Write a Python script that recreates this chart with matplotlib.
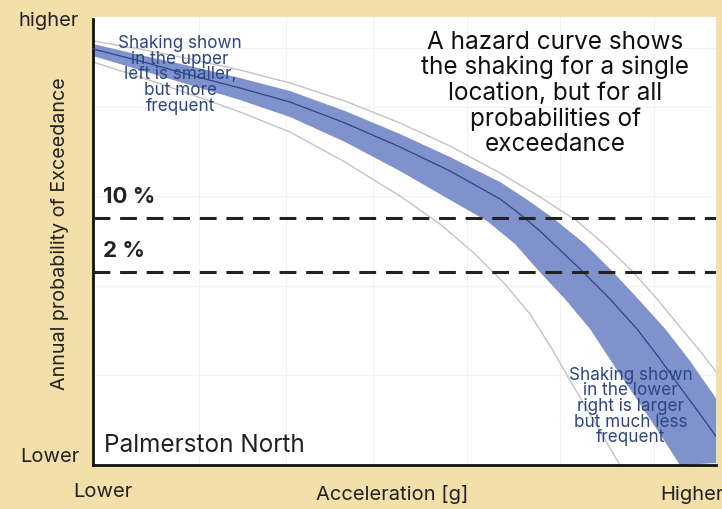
"""Hazard curve sketch for Palmerston North."""
import matplotlib
matplotlib.use("Agg")
import matplotlib.pyplot as plt
import numpy as np

# normalised acceleration (0 = lower, 1 = higher) and exceedance (0 = lower, 1 = higher)
center_x = [0.0, 0.0754, 0.1557, 0.2360, 0.3162, 0.4045, 0.4928, 0.5730, 0.6533,
            0.6854, 0.7175, 0.7817, 0.8299, 0.8732, 0.9101, 0.9422, 0.9743, 1.0064, 1.0385]
center_y = [0.9286, 0.9018, 0.8705, 0.8415, 0.8103, 0.7634, 0.7098, 0.6563, 0.5938,
            0.5600, 0.5223, 0.4375, 0.3705, 0.3036, 0.2366, 0.1741, 0.1138, 0.0513, -0.0089]

band_hi_x = [0.0, 0.0754, 0.1557, 0.2360, 0.3162, 0.4045, 0.4928, 0.5730, 0.6533,
             0.6950, 0.7384, 0.7897, 0.8347, 0.8780, 0.9213, 0.9583, 0.9952, 1.0305, 1.0626]
band_hi_y = [0.9397, 0.9152, 0.8906, 0.8638, 0.8348, 0.7902, 0.7388, 0.6875, 0.6317,
             0.5940, 0.5513, 0.4933, 0.4308, 0.3661, 0.2991, 0.2321, 0.1585, 0.0804, 0.0089]

band_lo_x = [0.0, 0.0754, 0.1557, 0.2360, 0.3162, 0.4045, 0.4928, 0.5650, 0.6324,
             0.6774, 0.7127, 0.7576, 0.7978, 0.8379, 0.8780, 0.9101, 0.9422]
band_lo_y = [0.9129, 0.8817, 0.8482, 0.8147, 0.7768, 0.7210, 0.6563, 0.5982, 0.5446,
             0.4933, 0.4375, 0.3705, 0.3036, 0.2188, 0.1362, 0.0692, 0.0]

grey_hi_x = [0.0, 0.0754, 0.1557, 0.2360, 0.3162, 0.4045, 0.4928, 0.5730, 0.6533,
             0.7175, 0.7769, 0.8218, 0.8668, 0.9053, 0.9422, 0.9743, 1.0064, 1.0706]
grey_hi_y = [0.9464, 0.9286, 0.9063, 0.8817, 0.8527, 0.8125, 0.7634, 0.7121, 0.6518,
             0.5982, 0.5446, 0.4911, 0.4308, 0.3705, 0.3080, 0.2545, 0.1964, 0.0804]

grey_lo_x = [0.0, 0.0754, 0.1557, 0.2360, 0.3162, 0.4045, 0.4928, 0.5570, 0.6132,
             0.6613, 0.7014, 0.7368, 0.7737, 0.8138, 0.8459]
grey_lo_y = [0.8996, 0.8661, 0.8281, 0.7879, 0.7433, 0.6763, 0.6004, 0.5379, 0.4710,
             0.4040, 0.3371, 0.2589, 0.1696, 0.0759, 0.0]

poe_levels = [0.551, 0.431]
poe_labels = ["10 %", "2 %"]

BG = "#F2DFA9"
BAND = "#7589c7"
NAVY = "#2b4586"
TEXT = "#222222"
FONT = ["Inter", "DejaVu Sans"]

plt.rcParams["font.family"] = FONT

fig = plt.figure(figsize=(7.22, 5.10), dpi=100, facecolor=BG)
ax = fig.add_axes([93 / 722, 44 / 510, 623 / 722, 448 / 510])
ax.set_facecolor("white")

# faint background grid
for gx in [0.17, 0.31, 0.45, 0.6, 0.75, 0.9]:
    ax.axvline(gx, color="#f2f2f2", lw=0.8, zorder=0)
for gy in [0.2, 0.4, 0.6, 0.8, 0.93]:
    ax.axhline(gy, color="#f2f2f2", lw=0.8, zorder=0)

# band polygon from upper and lower edges
poly_x = np.concatenate([band_hi_x, band_lo_x[::-1]])
poly_y = np.concatenate([band_hi_y, band_lo_y[::-1]])
ax.fill(poly_x, poly_y, color=BAND, alpha=0.92, lw=0, zorder=2)
ax.plot(center_x, center_y, color=NAVY, lw=0.9, zorder=3, solid_joinstyle="round")
ax.plot(grey_hi_x, grey_hi_y, color="#c6c2c2", lw=1.0, zorder=1, solid_joinstyle="round")
ax.plot(grey_lo_x, grey_lo_y, color="#c6c2c2", lw=1.0, zorder=1, solid_joinstyle="round")

for lvl, lab in zip(poe_levels, poe_labels):
    ax.axhline(lvl, color="#222222", lw=2.2, dashes=(5.5, 3.2), zorder=4)
    ax.text(0.016, lvl + 0.027, lab, fontsize=16, fontweight="bold",
            color=TEXT, va="bottom", ha="left")

ax.set_xlim(0, 1)
ax.set_ylim(0, 1)
ax.set_xticks([])
ax.set_yticks([])
for side in ["top", "right"]:
    ax.spines[side].set_visible(False)
for side in ["left", "bottom"]:
    ax.spines[side].set_linewidth(2.0)
    ax.spines[side].set_color("#111111")
ax.spines["left"].set_bounds(0, 0.995)

ax.text(0.742, 0.972, "A hazard curve shows\nthe shaking for a single\nlocation, but for all\n"
        "probabilities of\nexceedance", transform=ax.transAxes, ha="center", va="top",
        fontsize=17.5, color="#111111", linespacing=1.13, zorder=5)
ax.text(0.14, 0.962, "Shaking shown\nin the upper\nleft is smaller,\nbut more\nfrequent",
        transform=ax.transAxes, ha="center", va="top", fontsize=12.3, color=NAVY,
        linespacing=0.9, zorder=5)
ax.text(0.863, 0.222, "Shaking shown\nin the lower\nright is larger\nbut much less\nfrequent",
        transform=ax.transAxes, ha="center", va="top", fontsize=12.3, color=NAVY,
        linespacing=0.9, zorder=5)
ax.text(0.018, 0.02, "Palmerston North", transform=ax.transAxes, ha="left",
        va="bottom", fontsize=17.5, color=TEXT, zorder=5)

fig.text(18 / 722, 1 - 21 / 510, "higher", ha="left", va="center", fontsize=14.5, color=TEXT)
fig.text(20 / 722, 1 - 457 / 510, "Lower", ha="left", va="center", fontsize=14.5, color=TEXT)
fig.text(73 / 722, 1 - 492 / 510, "Lower", ha="left", va="center", fontsize=14.5, color=TEXT)
fig.text(660 / 722, 1 - 495 / 510, "Higher", ha="left", va="center", fontsize=14.5, color=TEXT)
fig.text(392 / 722, 1 - 495 / 510, "Acceleration [g]", ha="center", va="center",
         fontsize=14.5, color=TEXT)
fig.text(60 / 722, 1 - 234 / 510, "Annual probability of Exceedance", rotation=90,
         ha="center", va="center", fontsize=14.2, color=TEXT)

fig.savefig("out.png", dpi=100, facecolor=BG)
